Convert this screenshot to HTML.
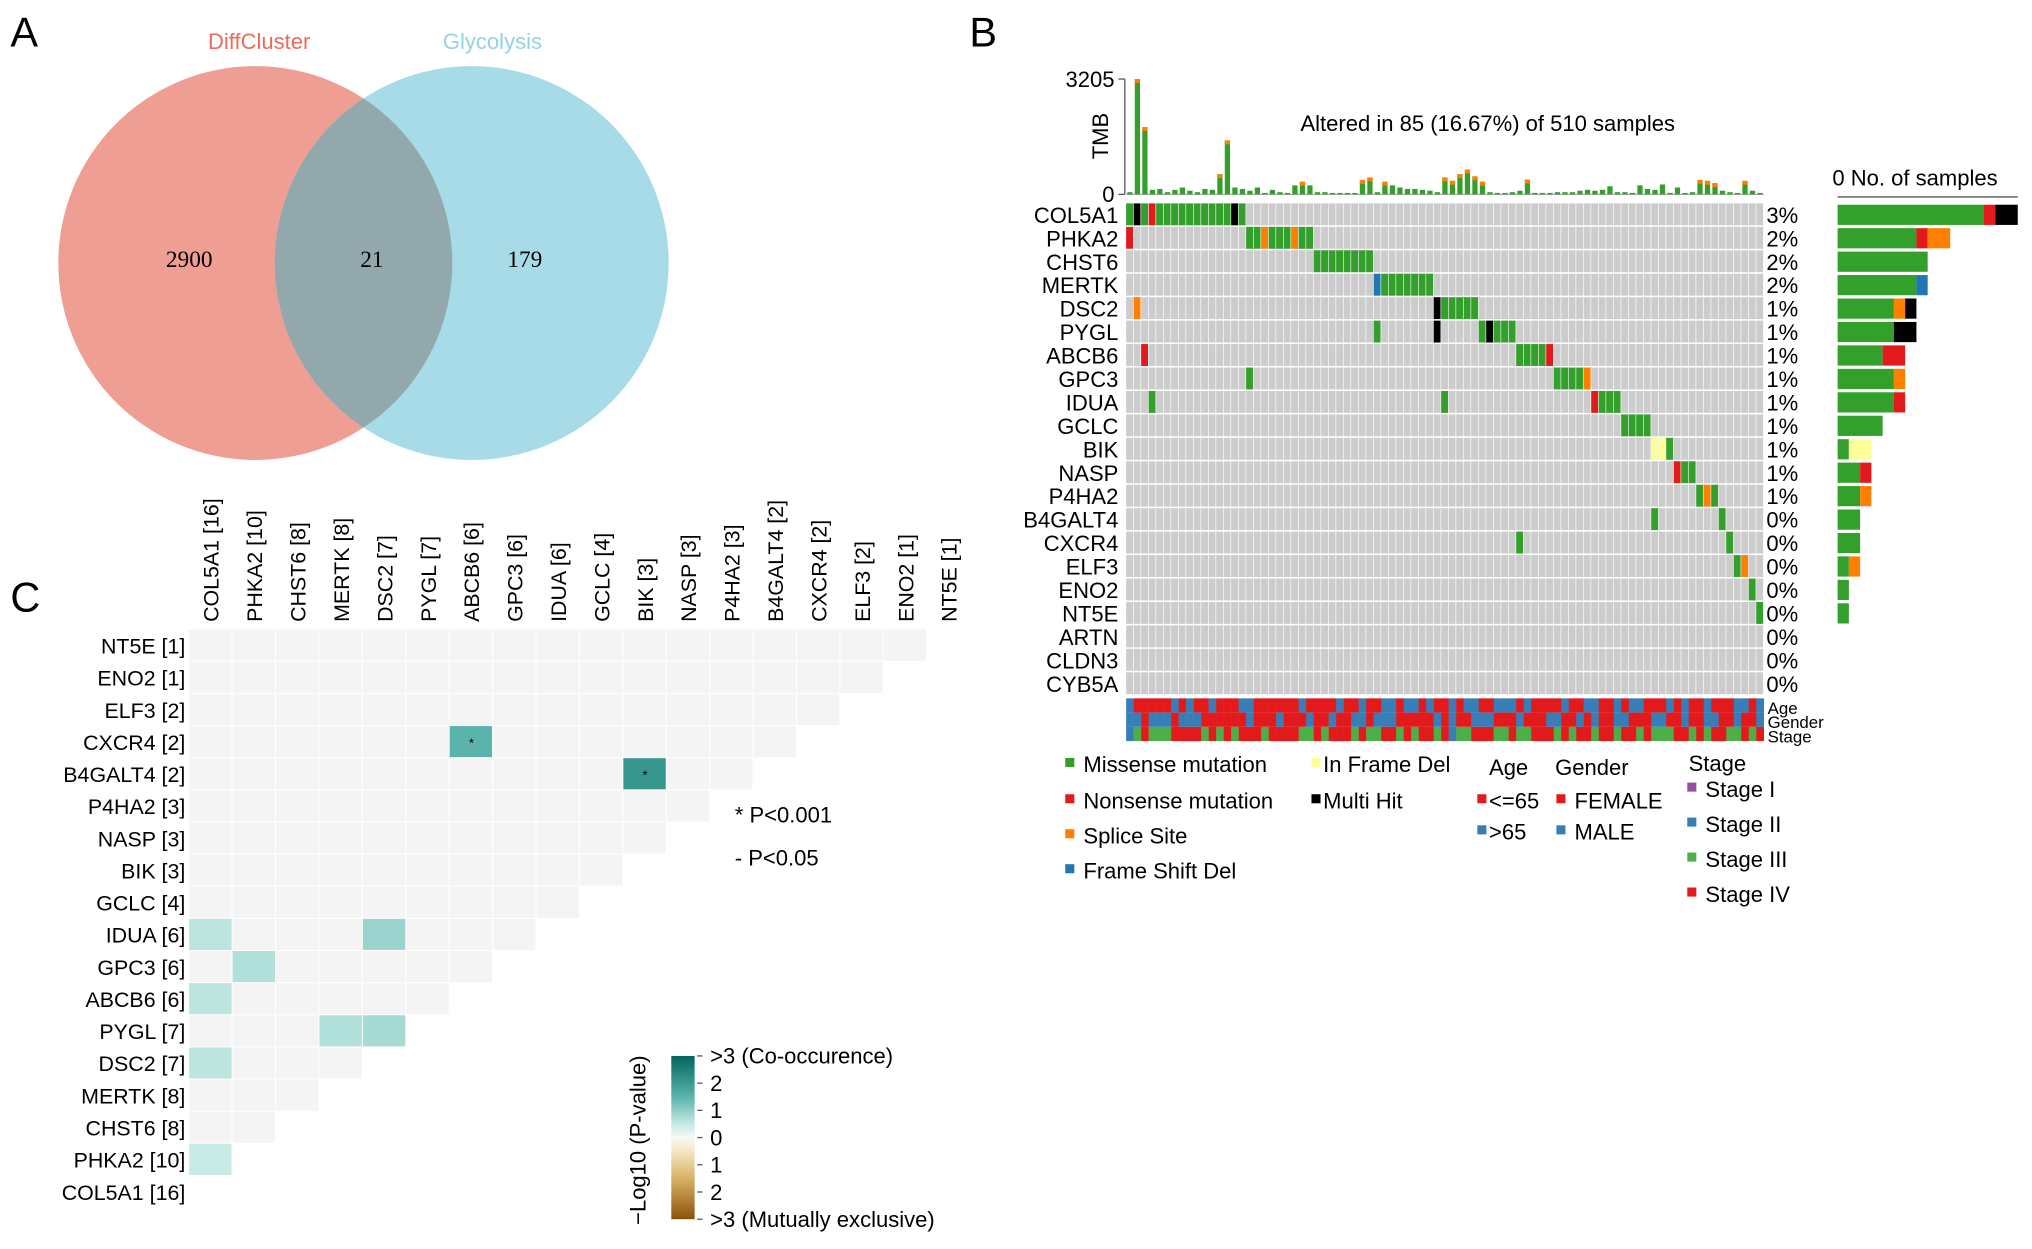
<!DOCTYPE html>
<html><head><meta charset="utf-8"><style>
html,body{margin:0;padding:0;background:#fff;}
svg{display:block;font-family:"Liberation Sans",Arial,sans-serif;}
</style></head><body>
<svg id="fig" width="2032" height="1249" viewBox="0 0 1568 964" preserveAspectRatio="none" xmlns="http://www.w3.org/2000/svg">
<defs>
<clipPath id="leftClip"><circle cx="197" cy="203" r="152"/></clipPath>
<linearGradient id="cbar" x1="0" y1="0" x2="0" y2="1">
<stop offset="0" stop-color="#01665e"/><stop offset="0.25" stop-color="#5ab4ac"/><stop offset="0.42" stop-color="#c7eae5"/><stop offset="0.5" stop-color="#f7f7f7"/><stop offset="0.58" stop-color="#f6e8c3"/><stop offset="0.75" stop-color="#d8b365"/><stop offset="1" stop-color="#8c510a"/>
</linearGradient>
</defs>
<text x="8" y="36" font-size="32">A</text>
<g>
<circle cx="197" cy="203" r="152" fill="#ef9e93"/>
<circle cx="364" cy="203" r="152" fill="#a7dbe8"/>
<circle cx="364" cy="203" r="152" fill="#93a8ad" clip-path="url(#leftClip)"/>
<text x="200" y="38" font-size="17" fill="#ee6b5c" text-anchor="middle">DiffCluster</text>
<text x="380" y="38" font-size="17" fill="#93d3e6" text-anchor="middle">Glycolysis</text>
<text x="146" y="206" font-size="18" font-family="Liberation Serif,serif" text-anchor="middle">2900</text>
<text x="287" y="206" font-size="18" font-family="Liberation Serif,serif" text-anchor="middle">21</text>
<text x="405" y="206" font-size="18" font-family="Liberation Serif,serif" text-anchor="middle">179</text>
</g>
<text x="748" y="36" font-size="32">B</text>
<text x="8" y="472" font-size="32">C</text>
<g id="panelB"></g>
<g id="panelC"></g>
</svg>
<script>
const genes = ["COL5A1","PHKA2","CHST6","MERTK","DSC2","PYGL","ABCB6","GPC3","IDUA","GCLC","BIK","NASP","P4HA2","B4GALT4","CXCR4","ELF3","ENO2","NT5E","ARTN","CLDN3","CYB5A"];
const mutCols = [
 [0,1,2,3,4,5,6,7,8,9,10,11,12,13,14,15],
 [0,16,17,18,19,20,21,22,23,24],
 [25,26,27,28,29,30,31,32],
 [33,34,35,36,37,38,39,40],
 [1,41,42,43,44,45,46],
 [33,41,47,48,49,50,51],
 [2,52,53,54,55,56],
 [16,57,58,59,60,61],
 [3,42,62,63,64,65],
 [66,67,68,69],
 [70,71,72],
 [73,74,75],
 [76,77,78],
 [70,79],
 [52,80],
 [81,82],
 [83],
 [84],
 [],[],[]
];
const mutTypes = [
 "GKGRGGGGGGGGGGKG",
 "RGGOGGGOGG",
 "GGGGGGGG",
 "BGGGGGGG",
 "OKGGGGG",
 "GKGKGGG",
 "RGGGGR",
 "GGGGGO",
 "GGRGGG",
 "GGGG",
 "YYG",
 "RGG",
 "GOG",
 "GG",
 "GG",
 "GO",
 "G",
 "G",
 "","",""
];
const tmbValues = [60,3205,1870,125,150,60,125,190,100,60,150,125,560,1500,190,150,100,190,40,125,60,40,250,350,250,60,60,40,40,40,40,400,470,60,350,250,190,150,150,125,100,60,470,375,560,690,500,350,60,40,40,60,100,410,40,40,40,60,60,60,100,125,100,125,225,60,60,40,250,150,125,275,40,190,40,60,400,375,310,100,60,40,375,100,40];
const tmbTicks = [0,3205];
const ageRow    = "BRRRRRBRBRRBRRRBBRRRRRRBRRRRBRRBRRBBRBBRBRRBRBBRRBBBRBRRRRBRRBBRRBRBBRRRBRBRRBRRRBBRB";
const genderRow = "BBRBBBRBBBRRRRRRBRRRBRRRBRRBRRBBRBBBRRRRRBRBRRBBBRRRBRRRBBRRBRBRRBBRRRBBRRBRRBBRRBRRB";
const stageRow  = "2343334444343434443444433434443433443434434233444334334443434434434434333443434433434341";
const totalSamples = 510;
const nCols = 85;

const COL = {G:"#33a02c",R:"#e31a1c",O:"#ff7f00",B:"#1f78b4",Y:"#ffff99",K:"#000000"};
const NS = "http://www.w3.org/2000/svg";
function el(parent, tag, attrs, txt){
  const e = document.createElementNS(NS, tag);
  for (const k in attrs) e.setAttribute(k, attrs[k]);
  if (txt !== undefined) e.textContent = txt;
  parent.appendChild(e);
  return e;
}
const B = document.getElementById("panelB");
const gx0 = 869, gx1 = 1361, gy0 = 157, gy1 = 537;
const cw = (gx1 - gx0) / nCols, rh = (gy1 - gy0) / genes.length;
const xCol = i => gx0 + i * cw;
const yRow = r => gy0 + r * rh;
const tmbMax = tmbTicks[tmbTicks.length-1];
const tY0 = 150, tY1 = 61;
const yT = v => tY0 - (v / tmbMax) * (tY0 - tY1);
let a = el(B,"line",{x1:gx0-1,y1:tY1,x2:gx0-1,y2:tY0,stroke:"#555","stroke-width":1});


tmbTicks.forEach(t=>{
  let l = el(B,"line",{x1:gx0-6,y1:yT(t),x2:gx0-1,y2:yT(t),stroke:"#555"});
  
  
  let tx = el(B,"text",{x:gx0-9,y:yT(t)+6,"font-size":17,"text-anchor":"end"},String(t));
  
  
});
let tl = el(B,"text",{x:0,y:0,"font-size":17,"text-anchor":"middle",transform:`translate(855,105) rotate(-90)`},"TMB");


let bl = el(B,"line",{x1:gx0,y1:tY0,x2:gx1,y2:tY0,stroke:"#999","stroke-width":0.8});


tmbValues.forEach((v,i)=>{
  const x = xCol(i)+cw*0.15, w = cw*0.7;
  let r = el(B,"rect",{x:x,y:yT(v),width:w,height:tY0-yT(v),fill:"#33a02c"});
  
  
  if (v > 300){
    let c = el(B,"rect",{x:x,y:yT(v),width:w,height:3,fill:"#ff7f00"});
    
    
  }
});
let at = el(B,"text",{x:1148,y:101,"font-size":17,"text-anchor":"middle"},"Altered in 85 (16.67%) of 510 samples");


genes.forEach((g,r)=>{
  for (let i=0;i<nCols;i++){
    let c = el(B,"rect",{x:xCol(i),y:yRow(r),width:cw-0.5,height:rh-1.2,fill:"#cccccc"});
    
    
  }
  mutCols[r].forEach((ci,k)=>{
    let m = el(B,"rect",{x:xCol(ci),y:yRow(r),width:cw-0.5,height:rh-1.2,fill:COL[mutTypes[r][k]]});
    
    
  });
  let lab = el(B,"text",{x:gx0-6,y:yRow(r)+rh/2+6,"font-size":17,"text-anchor":"end"},g);
  
  
  let pct = el(B,"text",{x:gx1+2,y:yRow(r)+rh/2+6,"font-size":17},Math.round(mutCols[r].length/totalSamples*100)+"%");
  
  
  const order = "GROBYK";
  let x = 1418; const sc = (1557-1418)/16;
  for (const t of order){
    const n = mutTypes[r].split("").filter(c=>c===t).length;
    if (!n) continue;
    let rb = el(B,"rect",{x:x,y:yRow(r)+1,width:n*sc,height:rh-2.5,fill:COL[t]});
    
    
    x += n*sc;
  }
});
let ra = el(B,"line",{x1:1418,y1:152,x2:1557,y2:152,stroke:"#555"});


let rt = el(B,"text",{x:1414,y:143,"font-size":17},"0 No. of samples");


const clinColor = {R:"#e31a1c",B:"#377eb8","1":"#984ea3","2":"#377eb8","3":"#4daf4a","4":"#e31a1c"};
[ageRow,genderRow,stageRow].forEach((s,k)=>{
  for (let i=0;i<nCols;i++){
    let c = el(B,"rect",{x:xCol(i),y:539+k*11,width:cw+0.2,height:11,fill:clinColor[s[i]]||"#e31a1c"});
    
    
  }
});
["Age","Gender","Stage"].forEach((t,k)=>{
  let c = el(B,"text",{x:1364,y:551+k*11,"font-size":13},t);
  
  
});
const legItems = [
 [822,596,"#33a02c","Missense mutation"],[822,624,"#e31a1c","Nonsense mutation"],[822,651,"#ff7f00","Splice Site"],[822,678,"#1f78b4","Frame Shift Del"],
 [1012,596,"#ffff99","In Frame Del"],[1012,624,"#000","Multi Hit"],
 [1140,624,"#e31a1c","<=65"],[1140,648,"#377eb8",">65"],
 [1201,624,"#e31a1c","FEMALE"],[1201,648,"#377eb8","MALE"],
 [1302,615,"#984ea3","Stage I"],[1302,642,"#377eb8","Stage II"],[1302,669,"#4daf4a","Stage III"],[1302,696,"#e31a1c","Stage IV"]
];
legItems.forEach(([x,y,c,t])=>{
  let s = el(B,"rect",{x:x,y:y-11,width:7,height:7,fill:c});
  
  
  let tx = el(B,"text",{x:x+(x===1140?9:x===1012?9:14),y:y,"font-size":17},t);
  
  
});
[[1149,598,"Age"],[1200,598,"Gender"],[1303,595,"Stage"]].forEach(([x,y,t])=>{
  let tx = el(B,"text",{x:x,y:y,"font-size":17},t);
  
  
});

const cGenes = ["COL5A1","PHKA2","CHST6","MERTK","DSC2","PYGL","ABCB6","GPC3","IDUA","GCLC","BIK","NASP","P4HA2","B4GALT4","CXCR4","ELF3","ENO2","NT5E"];
const cCounts = [16,10,8,8,7,7,6,6,6,4,3,3,3,2,2,2,1,1];
const sigRowGene = [14,13,8,8,7,6,5,5,4,1];
const sigColGene = [6,10,0,4,1,0,3,4,0,0];
const sigValue   = [2.0,2.4,1.1,1.4,1.2,1.1,1.2,1.3,1.1,1.0];
const sigMark    = ["*","*","","","","","","","",""];
const C = document.getElementById("panelC");
const hx0 = 146, hy0 = 486, hcw = 33.5, hrh = 24.8, nG = cGenes.length;
const hx = j => hx0 + j*hcw;
const hy = g => hy0 + (nG-1-g)*hrh;
function lerp(c1,c2,t){const p=s=>[1,3,5].map(i=>parseInt(s.substr(i,2),16));const A=p(c1),Bc=p(c2);return "rgb("+A.map((v,i)=>Math.round(v+(Bc[i]-v)*t)).join(",")+")";}
function coColor(v){const st=["#f7f7f7","#c7eae5","#5ab4ac","#01665e"];v=Math.max(0,Math.min(3,v));const i=Math.min(2,Math.floor(v));return lerp(st[i],st[i+1],v-i);}
for (let g=0; g<nG; g++){
  for (let h=0; h<g; h++){
    let c = el(C,"rect",{x:hx(h),y:hy(g),width:hcw-0.8,height:hrh-0.8,fill:"#f4f4f4"});
    
    
  }
}
sigRowGene.forEach((g,k)=>{
  const h = sigColGene[k];
  let c = el(C,"rect",{x:hx(h),y:hy(g),width:hcw-0.8,height:hrh-0.8,fill:coColor(sigValue[k])});
  
  
  if (sigMark[k]){
    let m = el(C,"text",{x:hx(h)+hcw/2,y:hy(g)+hrh/2+4,"font-size":10,"text-anchor":"middle"},sigMark[k]);
    
    
  }
});
cGenes.forEach((gname,g)=>{
  let r = el(C,"text",{x:143,y:hy(g)+hrh/2+6,"font-size":16.5,"text-anchor":"end"},gname+" ["+cCounts[g]+"]");
  
  
  let c = el(C,"text",{x:0,y:0,"font-size":16.5,"text-anchor":"start",transform:`translate(${hx(g)+hcw/2+6},480) rotate(-90)`},gname+" ["+cCounts[g]+"]");
  
  
});
[[567,635,"* P<0.001"],[567,668,"- P<0.05"]].forEach(([x,y,t])=>{
  let tx = el(C,"text",{x:x,y:y,"font-size":17},t);
  
  
});
let cb = el(C,"rect",{x:518,y:815,width:18,height:126,fill:"url(#cbar)"});


const cbLabels = [">3 (Co-occurence)","2","1","0","1","2",">3 (Mutually exclusive)"];
cbLabels.forEach((t,k)=>{
  const y = 815 + k*21;
  let tk = el(C,"line",{x1:538,y1:y,x2:542,y2:y,stroke:"#555"});
  
  
  let tx = el(C,"text",{x:548,y:y+6,"font-size":17},t);
  
  
});
let cbt = el(C,"text",{x:0,y:0,"font-size":17,"text-anchor":"middle",transform:"translate(498,880) rotate(-90)"},"\u2212Log10 (P-value)");


</script>
</body></html>
